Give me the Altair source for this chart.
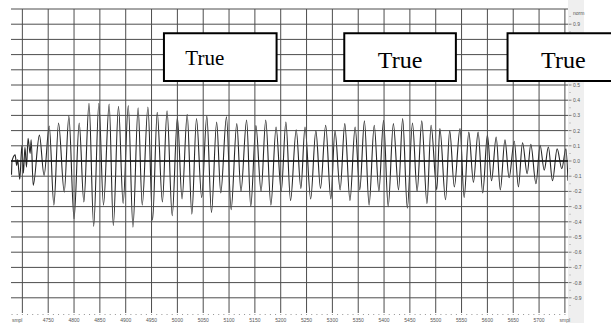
import altair as alt
import pandas as pd

# ---- waveform (sample index, normalised amplitude) ----
samples = [
    4679, 4680, 4683, 4686, 4689, 4691, 4693, 4695, 4699, 4702, 4705, 4708, 4711, 4715, 4717, 4721,
    4733, 4742, 4752, 4761, 4770, 4781, 4790, 4800, 4810, 4819, 4829, 4838, 4848, 4857, 4868, 4876,
    4886, 4895, 4905, 4914, 4924, 4932, 4943, 4952,
    4961, 4971, 4980, 4990, 5000, 5009, 5019, 5028, 5037, 5047, 5057, 5066, 5076, 5084, 5095, 5104,
    5115, 5123, 5134, 5142, 5152, 5162, 5171, 5181, 5191, 5201, 5210, 5219, 5230,
    5239, 5247, 5258, 5268, 5277, 5287, 5297, 5305, 5315, 5324, 5334, 5344, 5353, 5362, 5371, 5381,
    5390, 5399, 5408, 5418, 5428, 5436, 5445, 5455, 5464, 5473, 5483, 5491, 5502, 5508, 5519, 5527,
    5536, 5547, 5555, 5564, 5573, 5582, 5591, 5600, 5608, 5617, 5625, 5634, 5642, 5652, 5660, 5668,
    5677, 5684, 5694, 5702, 5710, 5718, 5726, 5735, 5744, 5752, 5756,
]
values = [
    -0.09, 0.0, 0.03, 0.04, -0.03, 0.01, -0.06, -0.12, 0.10, -0.08, 0.09, -0.04, 0.15, 0.05, 0.14, -0.16,
    0.17, -0.095, 0.23, -0.29, 0.25, -0.205, 0.295, -0.38, 0.25, -0.27, 0.38, -0.43, 0.38, -0.29, 0.375, -0.425,
    0.36, -0.28, 0.365, -0.435, 0.35, -0.29, 0.355, -0.39,
    0.32, -0.27, 0.33, -0.36, 0.286, -0.25, 0.308, -0.35, 0.28, -0.24, 0.297, -0.34, 0.257, -0.21, 0.29, -0.32,
    0.246, -0.2, 0.27, -0.3, 0.233, -0.2, 0.27, -0.29, 0.224, -0.2, 0.257, -0.26, 0.206,
    -0.18, 0.224, -0.25, 0.2, -0.18, 0.235, -0.25, 0.2, -0.19, 0.246, -0.26, 0.224, -0.19, 0.264, -0.29, 0.235,
    -0.2, 0.268, -0.3, 0.246, -0.19, 0.279, -0.31, 0.25, -0.2, 0.264, -0.28, 0.235, -0.19, 0.213, -0.255, 0.2,
    -0.17, 0.213, -0.24, 0.19, -0.14, 0.19, -0.21, 0.17, -0.13, 0.158, -0.19, 0.14, -0.11, 0.13, -0.17, 0.12,
    -0.084, 0.11, -0.15, 0.103, -0.06, 0.092, -0.13, 0.08, -0.05, 0.08, -0.13,
]

# ---- "True" boxes ----
box_x1 = [4974, 5323, 5639]
box_x2 = [5192, 5539, 5857]
box_top = [0.84, 0.84, 0.84]
box_bottom = [0.526, 0.526, 0.526]
box_text = ["True", "True", "True"]
text_x = [5053, 5431, 5747]
text_y = [0.632, 0.612, 0.614]
text_size = [21, 24, 24]

# ---- axes ----
x_ticks = [4700, 4750, 4800, 4850, 4900, 4950, 5000, 5050, 5100, 5150, 5200,
           5250, 5300, 5350, 5400, 5450, 5500, 5550, 5600, 5650, 5700, 5750]
x_tick_labels = ["", "4750", "4800", "4850", "4900", "4950", "5000", "5050", "5100", "5150", "5200",
                 "5250", "5300", "5350", "5400", "5450", "5500", "5550", "5600", "5650", "5700", "smpl"]
x_minor = list(range(4680, 5756, 10))
y_grid = [-0.9, -0.8, -0.7, -0.6, -0.5, -0.4, -0.3, -0.2, -0.1, 0.0,
          0.1, 0.2, 0.3, 0.4, 0.5, 0.6, 0.7, 0.8, 0.9, 1.0]
y_tick_vals = [0.9, 0.8, 0.7, 0.6, 0.5, 0.4, 0.3, 0.2, 0.1, 0.0,
               -0.1, -0.2, -0.3, -0.4, -0.5, -0.6, -0.7, -0.8, -0.9]
y_label_vals = [0.9, 0.5, 0.4, 0.3, 0.2, 0.1, 0.0,
                -0.1, -0.2, -0.3, -0.4, -0.5, -0.6, -0.7, -0.8, -0.9]
y_tick_labels = ["0.9", "0.5", "0.4", "0.3", "0.2", "0.1", "0.0",
                 "-0.1", "-0.2", "-0.3", "-0.4", "-0.5", "-0.6", "-0.7", "-0.8", "-0.9"]
y_minor = [0.95, 0.85, 0.75, 0.65, 0.55, 0.45, 0.35, 0.25, 0.15, 0.05,
           -0.05, -0.15, -0.25, -0.35, -0.45, -0.55, -0.65, -0.75, -0.85, -0.95]

X_MIN, X_MAX = 4678, 5756
xscale = alt.Scale(domain=[X_MIN, X_MAX], nice=False, zero=False)
yscale = alt.Scale(domain=[-1, 1], nice=False, zero=False)
no_axis = alt.Axis(grid=False, labels=False, ticks=False, domain=False, title=None)

GRID = "#4d4d4d"
LAB = "#555555"

wave = pd.DataFrame({"s": samples, "v": values})
line = alt.Chart(wave).mark_line(
    color="#262626", strokeWidth=1.1, interpolate="monotone", clip=True
).encode(
    x=alt.X("s:Q", scale=xscale, axis=no_axis),
    y=alt.Y("v:Q", scale=yscale, axis=no_axis),
)

vgrid = alt.Chart(pd.DataFrame({"s": x_ticks})).mark_rule(color=GRID, strokeWidth=1).encode(
    x=alt.X("s:Q", axis=None), y=alt.datum(1.0), y2=alt.datum(-1.0)
)
hgrid = alt.Chart(pd.DataFrame({"v": y_grid})).mark_rule(color=GRID, strokeWidth=1).encode(
    y=alt.Y("v:Q", axis=None), x=alt.datum(X_MIN), x2=alt.datum(X_MAX)
)

zero = alt.Chart(pd.DataFrame({"v": [0.0]})).mark_rule(color="#111", strokeWidth=1.5).encode(
    y=alt.Y("v:Q", axis=None)
)

strip = alt.Chart(pd.DataFrame({"s": [X_MAX], "s2": [5787]})).mark_rect(
    color="#efefef", clip=False
).encode(
    x=alt.X("s:Q", axis=None), x2="s2:Q", y=alt.datum(1.07), y2=alt.datum(-1.07)
)

right_ticks = alt.Chart(pd.DataFrame({"v": y_tick_vals})).mark_tick(
    orient="horizontal", size=3, thickness=1, color=LAB, clip=False, xOffset=2
).encode(x=alt.datum(X_MAX), y=alt.Y("v:Q", axis=None))
right_minor = alt.Chart(pd.DataFrame({"v": y_minor})).mark_tick(
    orient="horizontal", size=1, thickness=1, color="#777", clip=False, xOffset=2
).encode(x=alt.datum(X_MAX), y=alt.Y("v:Q", axis=None))
right_labels = alt.Chart(pd.DataFrame({"v": y_label_vals, "lab": y_tick_labels})).mark_text(
    align="left", baseline="middle", fontSize=5, font="Liberation Sans", color=LAB, dx=5, clip=False
).encode(x=alt.datum(X_MAX), y=alt.Y("v:Q", axis=None), text="lab:N")
norm_label = alt.Chart(pd.DataFrame({"v": [1.0], "lab": ["norm"]})).mark_text(
    align="left", baseline="middle", fontSize=5, font="Liberation Sans", color=LAB, dx=5, dy=4, clip=False
).encode(x=alt.datum(X_MAX), y=alt.Y("v:Q", axis=None), text="lab:N")

bottom_minor = alt.Chart(pd.DataFrame({"s": x_minor})).mark_tick(
    orient="vertical", size=1, thickness=1, color="#666", clip=False, yOffset=1.5
).encode(x=alt.X("s:Q", axis=None), y=alt.datum(-1))
bottom_labels = alt.Chart(pd.DataFrame({"s": x_ticks, "lab": x_tick_labels})).mark_text(
    align="center", baseline="middle", fontSize=5, font="Liberation Sans", color=LAB, dy=6.5, clip=False
).encode(x=alt.X("s:Q", axis=None), y=alt.datum(-1), text="lab:N")
smpl_left = alt.Chart(pd.DataFrame({"s": [4690], "lab": ["smpl"]})).mark_text(
    align="center", baseline="middle", fontSize=5, font="Liberation Sans", color=LAB, dy=6.5, clip=False
).encode(x=alt.X("s:Q", axis=None), y=alt.datum(-1), text="lab:N")

boxes_df = pd.DataFrame({"x1": box_x1, "x2": box_x2, "yt": box_top, "yb": box_bottom})
boxes = alt.Chart(boxes_df).mark_rect(
    fill="white", stroke="black", strokeWidth=2, clip=False
).encode(
    x=alt.X("x1:Q", axis=None), x2="x2:Q", y=alt.Y("yt:Q", axis=None), y2="yb:Q"
)
texts_df = pd.DataFrame({"x": text_x, "y": text_y, "t": box_text, "fs": text_size})
texts = alt.Chart(texts_df).mark_text(
    font="Liberation Serif", align="center", baseline="alphabetic", color="black", clip=False
).encode(
    x=alt.X("x:Q", axis=None), y=alt.Y("y:Q", axis=None), text="t:N",
    size=alt.Size("fs:Q", scale=None, legend=None),
)

chart = alt.layer(
    line, vgrid, hgrid, strip, zero, right_ticks, right_minor, right_labels, norm_label,
    bottom_minor, bottom_labels, smpl_left, boxes, texts
).properties(
    width=557, height=304,
    autosize=alt.AutoSizeParams(type="none"),
    padding={"left": 11, "top": 9, "right": 43, "bottom": 10},
    background="white",
).configure_view(strokeWidth=0)

chart.save("out.html", embed_options={"renderer": "svg", "actions": False})
